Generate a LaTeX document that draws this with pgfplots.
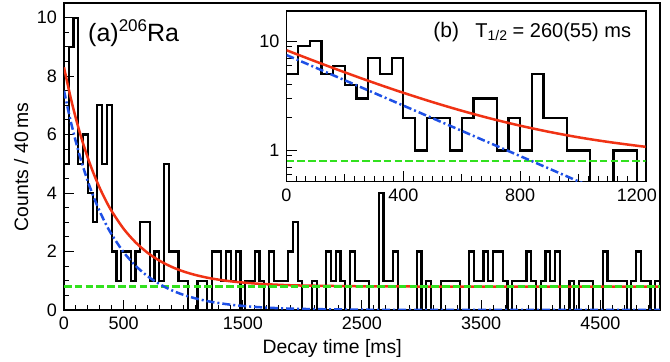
\documentclass[border=0pt]{standalone}
\usepackage{fontspec}
\setmainfont{Liberation Sans}
\usepackage{pgfplots}
\pgfplotsset{compat=1.18}
\usepackage{pgfplotstable}
\definecolor{fitred}{RGB}{240,50,20}
\definecolor{fitblue}{RGB}{30,80,230}
\definecolor{bggreen}{RGB}{50,225,30}

\pgfplotstableread{
x y
0 5
40 9
80 10
120 5
160 6
200 4
240 3
280 7
320 5
360 7
400 2
440 1
480 2
520 2
560 1
600 2
640 3
680 3
720 1
760 2
800 1
840 5
880 2
920 2
960 1
1000 1
1040 0
1080 0
1120 1
1160 1
1200 0
1240 2
1280 2
1320 1
1360 2
1400 1
1440 2
1480 0
1520 1
1560 1
1600 2
1640 1
1680 0
1720 2
1760 1
1800 1
1840 1
1880 2
1920 3
1960 1
2000 0
2040 0
2080 1
2120 0
2160 0
2200 2
2240 1
2280 2
2320 1
2360 0
2400 2
2440 1
2480 1
2520 1
2560 0
2600 0
2640 4
2680 1
2720 1
2760 2
2800 0
2840 0
2880 0
2920 0
2960 2
3000 0
3040 1
3080 0
3120 0
3160 1
3200 1
3240 1
3280 1
3320 0
3360 0
3400 2
3440 1
3480 1
3520 2
3560 1
3600 2
3640 2
3680 1
3720 0
3760 1
3800 1
3840 1
3880 2
3920 1
3960 0
4000 1
4040 2
4080 1
4120 2
4160 0
4200 0
4240 1
4280 0
4320 1
4360 1
4400 1
4440 0
4480 0
4520 2
4560 1
4600 1
4640 1
4680 1
4720 0
4760 1
4800 2
4840 1
4880 1
4920 0
4960 1
5000 1
}\mainhist

\pgfplotstableread{
x y
0 5
40 9
80 10
120 5
160 6
200 4
240 3
280 7
320 5
360 7
400 2
440 1
480 2
520 2
560 1
600 2
640 3
680 3
720 1
760 2
800 1
840 5
880 2
920 2
960 1
1000 1
1040 0.1
1080 0.1
1120 1
1160 1
1200 0.1
1240 0.1
}\insethist

\pgfplotstableread{
x tot dec
0 8.300 7.500
50 7.366 6.566
100 6.546 5.746
150 5.828 5.028
200 5.201 4.401
250 4.651 3.851
300 4.171 3.371
350 3.750 2.950
400 3.382 2.582
500 2.778 1.978
600 2.315 1.515
700 1.960 1.160
800 1.689 0.889
900 1.481 0.681
1000 1.321 0.521
1100 1.200 0.400
1200 1.106 0.306
1250 1.068 0.268
1400 0.980 0.180
1600 0.906 0.106
1800 0.862 0.062
2000 0.836 0.036
2500 0.810 0.010
3000 0.803 0.003
4000 0.800 0.000
5000 0.800 0.000
}\fits

\pgfplotstableread{
x y
0 0.8
5000 0.8
}\bkg

\begin{document}
\begin{tikzpicture}
\path[use as bounding box] (-32pt,-26pt) rectangle (303pt,155pt);
\begin{axis}[
  at={(0pt,0pt)}, anchor=south west,
  scale only axis, width=298pt, height=153.5pt,
  xmin=0, xmax=5000, ymin=0, ymax=10.5,
  xtick={0,500,1500,2500,3500,4500},
  minor xtick={100,200,...,4900},
  ytick={0,2,4,6,8,10},
  minor ytick={0.5,1,...,10.5},
  xtick pos=left, ytick pos=left,
  major tick length=5pt, minor tick length=2.5pt,
  tick style={black, line width=0.5pt},
  /pgf/number format/assume math mode=true,
  /pgf/number format/1000 sep={},
  ticklabel style={font=\fontsize{9}{11}\selectfont},
  axis line style={line width=0.9pt},
  clip mode=individual,
]
\addplot[const plot mark left, black, line width=1.1pt] table[x=x,y=y] {\mainhist};
\addplot[fitred, line width=1.25pt, smooth] table[x=x,y=tot] {\fits};
\addplot[bggreen, line width=1.2pt, dash pattern=on 3.8pt off 1.6pt] table[x=x,y=y] {\bkg};
\addplot[fitblue, line width=1.25pt, smooth, dash pattern=on 4pt off 1.5pt on 1pt off 1.5pt] table[x=x,y=dec] {\fits};
\node[anchor=base west, font=\fontsize{12.5}{14}\selectfont, inner sep=0pt] at (axis description cs:0.040,0.873) {(a)\raisebox{5pt}{\fontsize{8.5}{9}\selectfont 206}Ra};
\node[anchor=center, font=\fontsize{9.7}{11}\selectfont] at (axis description cs:0.45,-0.125) {Decay time [ms]};
\node[anchor=center, rotate=90, font=\fontsize{9.7}{11}\selectfont] at (axis description cs:-0.072,0.466) {Counts / 40\,ms};
\end{axis}

\begin{axis}[
  at={(111.25pt,64.25pt)}, anchor=south west,
  scale only axis, width=179.6pt, height=85.25pt,
  ymode=log,
  xmin=0, xmax=1230, ymin=0.52, ymax=19,
  xtick={0,400,800,1200},
  minor x tick num=11,
  extra x ticks={200,600,1000},
  extra x tick labels={},
  extra x tick style={major tick length=3.5pt},
  ytick={1,10}, yticklabels={1,10},
  minor ytick={0.6,0.7,0.8,0.9,2,3,4,5,6,7,8,9},
  xtick pos=left, ytick pos=left,
  major tick length=5pt, minor tick length=2.5pt,
  tick style={black, line width=0.5pt},
  /pgf/number format/assume math mode=true,
  /pgf/number format/1000 sep={},
  ticklabel style={font=\fontsize{9}{11}\selectfont},
  axis line style={line width=0.9pt},
  axis background/.style={fill=white},
  clip mode=individual,
]
\addplot[const plot mark left, black, line width=1.1pt] table[x=x,y=y] {\insethist};
\addplot[fitred, line width=1.25pt, smooth] table[x=x,y=tot] {\fits};
\addplot[bggreen, line width=1.2pt, dash pattern=on 3.8pt off 1.6pt] table[x=x,y=y] {\bkg};
\addplot[fitblue, line width=1.25pt, smooth, dash pattern=on 4pt off 1.5pt on 1pt off 1.5pt] table[x=x,y=dec] {\fits};
\node[anchor=base west, font=\fontsize{10.5}{12}\selectfont, inner sep=0pt] at (axis description cs:0.408,0.842) {(b)};
\node[anchor=base west, font=\fontsize{10}{12}\selectfont, inner sep=0pt] at (axis description cs:0.525,0.842) {T\raisebox{-1.5pt}{\fontsize{7}{8}\selectfont 1/2} = 260(55) ms};
\end{axis}
\end{tikzpicture}
\end{document}
